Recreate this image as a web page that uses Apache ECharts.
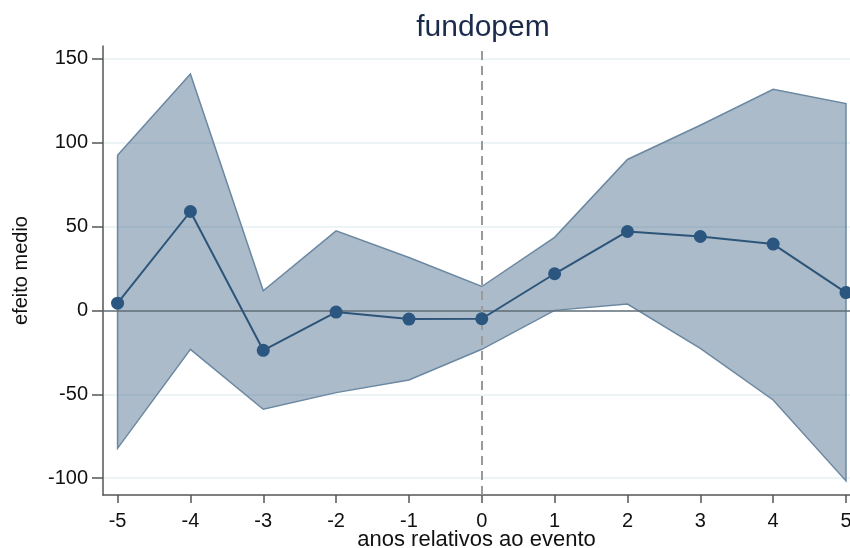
<!DOCTYPE html>
<html>
<head>
<meta charset="utf-8">
<script src="https://cdn.jsdelivr.net/npm/echarts@6/dist/echarts.min.js"></script>
<style>
html,body{margin:0;padding:0;background:#fff;}
#chart{width:850px;height:548px;}
</style>
</head>
<body>
<div id="chart"></div>
<script>
// Data
const years = [-5, -4, -3, -2, -1, 0, 1, 2, 3, 4, 5];
const estimate = [4.3, 58.9, -23.8, -1.0, -5.2, -5.0, 21.8, 47.0, 44.0, 39.5, 10.6];
const upper = [92.4, 140.8, 11.7, 47.4, 31.5, 14.2, 43.5, 89.9, 110.3, 131.7, 123.2];
const lower = [-82.2, -23.2, -58.9, -49.0, -41.5, -23.2, 0.0, 3.8, -22.6, -53.4, -101.6];
const yTicks = [-100, -50, 0, 50, 100, 150];
const xTicks = [-5, -4, -3, -2, -1, 0, 1, 2, 3, 4, 5];

const FONT = '"Liberation Sans", Arial, sans-serif';
const chart = echarts.init(document.getElementById('chart'));

const estData = years.map((x, i) => [x, estimate[i]]);

chart.setOption({
  animation: false,
  backgroundColor: '#ffffff',
  title: {
    text: 'fundopem',
    left: 478,
    top: 8,
    textAlign: 'center',
    textStyle: { fontFamily: FONT, fontSize: 30, fontWeight: 'normal', color: '#1c2b4c' }
  },
  grid: { left: 103, top: 46, width: 747, height: 449, containLabel: false, outerBoundsMode: 'none' },
  xAxis: {
    type: 'value',
    min: -5.2,
    max: 5.055,
    name: 'anos relativos ao evento',
    nameLocation: 'middle',
    nameGap: 34,
    nameMoveOverlap: false,
    nameTextStyle: { fontFamily: FONT, fontSize: 22, color: '#111' },
    axisLine: { show: true, onZero: false, lineStyle: { color: '#555', width: 1.5 } },
    axisTick: { show: true, length: 8, customValues: xTicks, lineStyle: { color: '#555', width: 1.5 } },
    axisLabel: { customValues: xTicks, margin: 16, fontFamily: FONT, fontSize: 20, color: '#111' },
    splitLine: { show: false }
  },
  yAxis: {
    type: 'value',
    min: -110,
    max: 157.5,
    name: 'efeito medio',
    nameLocation: 'middle',
    nameGap: 72,
    nameMoveOverlap: false,
    nameTextStyle: { fontFamily: FONT, fontSize: 20, color: '#111' },
    axisLine: { show: true, onZero: false, lineStyle: { color: '#555', width: 1.5 } },
    axisTick: { show: true, length: 11, customValues: yTicks, lineStyle: { color: '#555', width: 1.5 } },
    axisLabel: { customValues: yTicks, margin: 15, fontFamily: FONT, fontSize: 20, color: '#111' },
    splitLine: { show: false }
  },
  series: [
    {
      // gridlines
      type: 'line',
      data: [],
      z: 0,
      silent: true,
      markLine: {
        z: 0,
        silent: true,
        symbol: ['none', 'none'],
        label: { show: false },
        lineStyle: { color: '#e6f0f3', width: 1.5, type: 'solid' },
        data: yTicks.filter(v => v !== 0).map(v => ({ yAxis: v }))
      }
    },
    {
      // confidence band polygon
      type: 'custom',
      z: 2,
      silent: true,
      data: [0],
      renderItem: function (params, api) {
        const pts = [];
        for (let i = 0; i < years.length; i++) pts.push(api.coord([years[i], upper[i]]));
        for (let i = years.length - 1; i >= 0; i--) pts.push(api.coord([years[i], lower[i]]));
        return {
          type: 'polygon',
          shape: { points: pts },
          style: { fill: 'rgba(26,71,111,0.37)', stroke: '#6b88a2', lineWidth: 1.5 }
        };
      }
    },
    {
      // zero line and event line
      type: 'line',
      data: [],
      z: 4,
      silent: true,
      markLine: {
        z: 4,
        silent: true,
        symbol: ['none', 'none'],
        label: { show: false },
        data: [
          { yAxis: 0, lineStyle: { color: '#5f6d77', width: 1.5, type: 'solid' } },
          { xAxis: 0, lineStyle: { color: '#9a9a9a', width: 2, type: [9, 6] } }
        ]
      }
    },
    {
      type: 'line',
      data: estData,
      z: 10,
      symbol: 'circle',
      symbolSize: 13,
      lineStyle: { color: '#2c5579', width: 2 },
      itemStyle: { color: '#2a5680' }
    }
  ]
});
</script>
</body>
</html>
